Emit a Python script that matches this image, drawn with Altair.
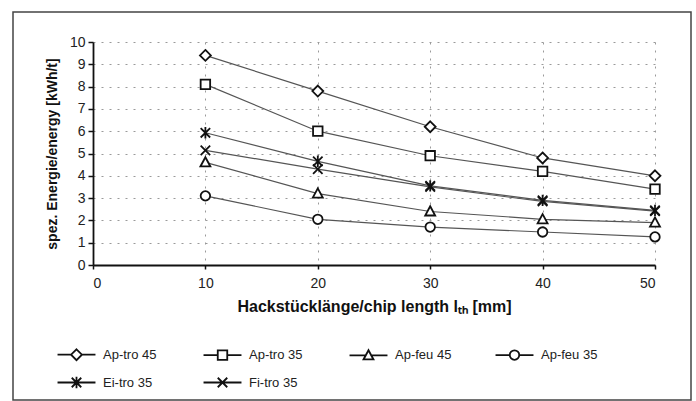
import altair as alt
import pandas as pd

# ---- data ----
chip_length = [10, 20, 30, 40, 50]
series_names = ["Ap-tro 45", "Ap-tro 35", "Ap-feu 45", "Ap-feu 35", "Ei-tro 35", "Fi-tro 35"]
ap_tro_45 = [9.4, 7.8, 6.2, 4.8, 4.0]
ap_tro_35 = [8.1, 6.0, 4.9, 4.2, 3.4]
ap_feu_45 = [4.6, 3.2, 2.4, 2.05, 1.9]
ap_feu_35 = [3.1, 2.05, 1.7, 1.48, 1.26]
ei_tro_35 = [5.93, 4.65, 3.55, 2.9, 2.45]
fi_tro_35 = [5.14, 4.3, 3.5, 2.85, 2.42]
series_values = [ap_tro_45, ap_tro_35, ap_feu_45, ap_feu_35, ei_tro_35, fi_tro_35]
y_ticks = list(range(0, 11))
x_ticks = [0, 10, 20, 30, 40, 50]

rows = []
for name, vals in zip(series_names, series_values):
    for xv, yv in zip(chip_length, vals):
        rows.append({"series": name, "x": xv, "y": yv})
df = pd.DataFrame(rows)

marker_paths = [
    "M0,-1.15L1.15,0L0,1.15L-1.15,0Z",                 # diamond
    "M-1,-1H1V1H-1Z",                                   # square
    "M0,-1.1L1.05,0.85H-1.05Z",                         # triangle
    "M1,0A1,1 0 1,1 -1,0A1,1 0 1,1 1,0Z",               # circle
    "M-1,-1L1,1M-1,1L1,-1M0,-1.2V1.2",                  # asterisk
    "M-1,-1L1,1M-1,1L1,-1",                             # x
]
legend_paths = [
    "M-4,0H-1.15M1.15,0H4" + marker_paths[0],
    "M-4,0H-1M1,0H4" + marker_paths[1],
    "M-4,0H-0.6M0.6,0H4" + marker_paths[2],
    "M-4,0H-1M1,0H4" + marker_paths[3],
    "M-4,0H4" + marker_paths[4],
    "M-4,0H4" + marker_paths[5],
]

FONT = "Liberation Sans"

x_enc = alt.X(
    "x:Q",
    scale=alt.Scale(domain=[0, 50], nice=False, zero=False),
    axis=alt.Axis(
        values=x_ticks,
        labelOverlap=False,
        title="Hackstücklänge/chip length lₜₕ [mm]",
        titleFont=FONT, titleFontSize=16, titleFontWeight="bold", titleColor="#111",
        titlePadding=8,
        labelFont=FONT, labelFontSize=14, labelColor="#222", labelPadding=7,
        domainColor="#111", domainWidth=1.8,
        tickColor="#111", tickSize=4, tickWidth=1.5,
        grid=True, gridColor="#9a9a9a", gridDash=[2, 6], gridWidth=1,
    ),
)
y_enc = alt.Y(
    "y:Q",
    scale=alt.Scale(domain=[0, 10], nice=False),
    axis=alt.Axis(
        values=y_ticks,
        labelOverlap=False,
        title="spez. Energie/energy [kWh/t]",
        titleFont=FONT, titleFontSize=14, titleFontWeight="bold", titleColor="#111",
        titlePadding=10,
        labelFont=FONT, labelFontSize=14, labelColor="#222", labelPadding=3,
        domainColor="#111", domainWidth=1.8,
        tickColor="#111", tickSize=5, tickWidth=1.5,
        grid=True, gridColor="#9a9a9a", gridDash=[2, 6], gridWidth=1,
    ),
)

base = alt.Chart(df)

lines = base.mark_line(color="#555", strokeWidth=1.2).encode(
    x=x_enc, y=y_enc, detail="series:N"
)

points = base.mark_point(
    filled=True, fill="white", stroke="#111", strokeWidth=1.8, size=90, opacity=1
).encode(
    x=x_enc,
    y=y_enc,
    shape=alt.Shape(
        "series:N",
        scale=alt.Scale(domain=series_names, range=marker_paths),
        legend=None,
    ),
)

# legend-only layer: all rows filtered away, legend driven by the explicit domain
legend_layer = base.transform_filter("datum.x < 0").mark_point(
    filled=False, color="#111", stroke="#111", strokeWidth=1.6, size=90
).encode(
    x=x_enc,
    y=y_enc,
    shape=alt.Shape(
        "series:N",
        scale=alt.Scale(domain=series_names, range=legend_paths),
        legend=alt.Legend(
            title=None,
            orient="none",
            legendX=-60,
            legendY=306,
            direction="horizontal",
            columns=4,
            gridAlign="all",
            symbolSize=90,
            symbolStrokeWidth=1.8,
            symbolStrokeColor="#111",
            symbolOpacity=1,
            symbolOffset=37,
            labelOffset=20,
            columnPadding=19,
            rowPadding=9,
            labelFont=FONT,
            labelFontSize=13,
            labelColor="#222",
            padding=0,
        ),
    ),
)

frame = alt.Chart(pd.DataFrame({"f": [0]})).mark_rect(
    filled=False, stroke="#444", strokeWidth=1.5
).encode(
    x=alt.value(-80), x2=alt.value(598), y=alt.value(-30), y2=alt.value(358)
)

chart = (
    alt.layer(frame, lines, points, legend_layer)
    .resolve_scale(shape="independent")
    .properties(
        width=562,
        height=223,
        padding={"left": 12, "top": 11, "right": 4, "bottom": 0},
        background="white",
    )
    .configure_view(stroke=None)
)

chart.save("out.html", embed_options={"renderer": "svg", "actions": False})
